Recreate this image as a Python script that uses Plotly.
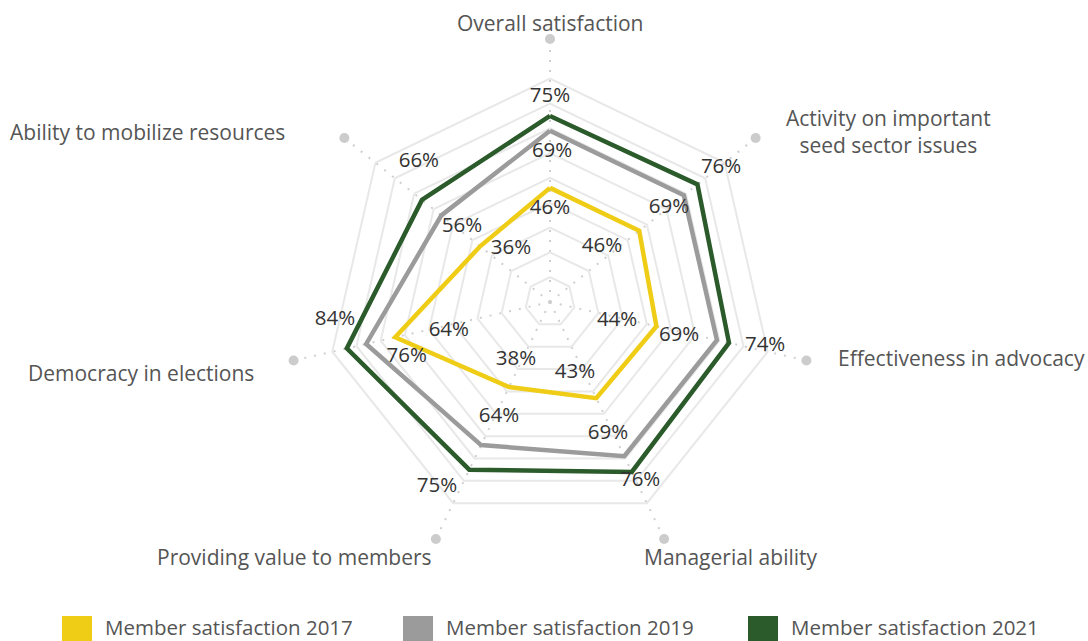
import plotly.graph_objects as go

W, H = 1088, 641

categories = [
    "Overall satisfaction",
    "Activity on important seed sector issues",
    "Effectiveness in advocacy",
    "Managerial ability",
    "Providing value to members",
    "Democracy in elections",
    "Ability to mobilize resources",
]
axis_labels = [
    "Overall satisfaction",
    "Activity on important<br>seed sector issues",
    "Effectiveness in advocacy",
    "Managerial ability",
    "Providing value to members",
    "Democracy in elections",
    "Ability to mobilize resources",
]
series_names = ["Member satisfaction 2017", "Member satisfaction 2019", "Member satisfaction 2021"]
values_2017 = [46, 46, 44, 43, 38, 64, 36]
values_2019 = [69, 69, 69, 69, 64, 76, 56]
values_2021 = [75, 76, 74, 76, 75, 84, 66]
grid_levels = [10, 20, 30, 40, 50, 60, 70, 80, 90]

# ---- style / placement (not data) ----
colors = ["#EFCC16", "#9B9B9B", "#2B5A2B"]
# value-label nudges relative to each point: radial (pct points) and angular (deg)
label_dr = [
    [-8.5, -15.5, -15.9, -12.6, -10.9, -21.6, -9.5],
    [-8.5, -7.9, -15.2, -10.9, -13.3, -14.2, -9.4],
    [7.7, 11.6, 14.5, 4.8, 12.4, 3.0, 11.3],
]
label_dtheta = [
    [0, -8.0, 2.9, 6.3, 4.7, -3.1, 15.1],
    [0.8, 0.3, 1.9, 2.0, -1.8, -8.1, 1.8],
    [0, 0.5, -1.3, -1.0, 5.7, 8.1, 8.3],
]
R_MAX = 106
FONT = "Open Sans"
CX, CY, RPX = 550, 302, 263   # polar centre and outer radius in pixels


def px(x):
    return x / W


def py(y):
    return 1 - y / H


domain = dict(x=[px(CX - RPX), px(CX + RPX)], y=[py(CY + RPX), py(CY - RPX)])
step = 360 / len(categories)

fig = go.Figure()

all_series = [values_2017, values_2019, values_2021]
for name, vals, col in zip(series_names, all_series, colors):
    fig.add_trace(go.Scatterpolar(
        r=vals + vals[:1], theta=categories + categories[:1],
        mode="lines", line=dict(color=col, width=4.5),
        name=name, showlegend=False, hoverinfo="skip",
    ))

# end-of-axis dots
fig.add_trace(go.Scatterpolar(
    r=[R_MAX] * len(categories), theta=categories, mode="markers",
    marker=dict(size=10, color="#CCCCCC"), showlegend=False,
    hoverinfo="skip", cliponaxis=False,
))

# value labels on an overlaid numeric polar with the same geometry
for vals, drs, dts in zip(all_series, label_dr, label_dtheta):
    fig.add_trace(go.Scatterpolar(
        r=[v + d for v, d in zip(vals, drs)],
        theta=[i * step + t for i, t in enumerate(dts)],
        mode="text", text=[f"{v}%" for v in vals],
        textfont=dict(family=FONT, size=20.5, color="#333333"),
        showlegend=False, hoverinfo="skip", cliponaxis=False,
        subplot="polar2",
    ))

fig.update_layout(
    width=W, height=H,
    margin=dict(l=0, r=0, t=0, b=0),
    paper_bgcolor="white", plot_bgcolor="white",
    showlegend=False,
    polar=dict(
        domain=domain,
        gridshape="linear",
        bgcolor="white",
        radialaxis=dict(
            range=[0, R_MAX], tickvals=grid_levels, showticklabels=False,
            ticks="", showline=False, gridcolor="#E8E8E8", gridwidth=2,
        ),
        angularaxis=dict(
            type="category", categoryarray=categories,
            rotation=90, direction="clockwise",
            showticklabels=False, ticks="", showline=False,
            gridcolor="#CFCFCF", gridwidth=2, griddash="2px,8px",
        ),
    ),
    polar2=dict(
        domain=domain,
        bgcolor="rgba(0,0,0,0)",
        radialaxis=dict(range=[0, R_MAX], visible=False),
        angularaxis=dict(type="linear", rotation=90, direction="clockwise",
                         thetaunit="degrees", visible=False),
    ),
)

# axis category labels
label_pos = [
    (550, 23, "center"),
    (888, 131, "center"),
    (836, 358, "left"),
    (642, 557, "left"),
    (434, 557, "right"),
    (256, 373, "right"),
    (287, 132, "right"),
]
for text, (x, y, al) in zip(axis_labels, label_pos):
    fig.add_annotation(
        x=px(x), y=py(y), xref="paper", yref="paper", text=text,
        showarrow=False, xanchor=al, yanchor="middle", align="center",
        font=dict(family=FONT, size=21, color="#555555"),
    )

# manual legend
legend_x = [62, 403, 748]
for name, col, x0 in zip(series_names, colors, legend_x):
    fig.add_shape(type="rect", xref="paper", yref="paper",
                  x0=px(x0), x1=px(x0 + 30), y0=py(646), y1=py(616),
                  fillcolor=col, line=dict(width=0))
    fig.add_annotation(
        x=px(x0 + 41), y=py(627), xref="paper", yref="paper", text=name,
        showarrow=False, xanchor="left", yanchor="middle",
        font=dict(family=FONT, size=20.5, color="#555555"),
    )

fig.write_html(
    "out.html",
    config={"displayModeBar": False},
    post_script="document.body.style.margin='0';document.body.style.overflow='hidden';",
)
